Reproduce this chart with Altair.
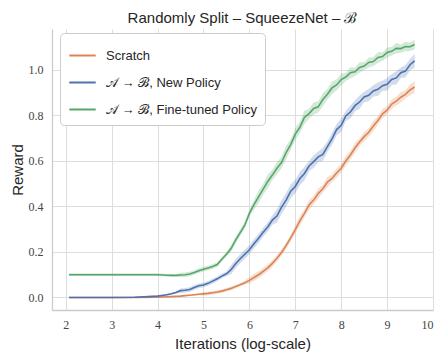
import altair as alt
import pandas as pd

# shared x grid
x_vals = [2.07, 2.5, 3.0, 3.5] + [round(4.0 + 0.1 * i, 1) for i in range(57)]

green_mean = [0.100, 0.100, 0.100, 0.100,
              0.100, 0.099, 0.098, 0.097, 0.097, 0.099, 0.100, 0.103, 0.110, 0.118,
              0.124, 0.130, 0.136, 0.145, 0.168, 0.190, 0.215, 0.252, 0.285, 0.318,
              0.370, 0.408, 0.442, 0.476, 0.510, 0.538, 0.568, 0.593, 0.637, 0.672,
              0.718, 0.748, 0.792, 0.808, 0.831, 0.838, 0.870, 0.893, 0.921, 0.934,
              0.958, 0.969, 0.988, 0.992, 1.011, 1.017, 1.033, 1.037, 1.055, 1.059,
              1.077, 1.082, 1.095, 1.094, 1.103, 1.102, 1.112]
green_hw = [0.006] * 4 + [0.006] * 5 + [0.010] * 11 + [0.015] * 5 + \
    [0.022, 0.028, 0.024, 0.030, 0.023, 0.027, 0.025, 0.031, 0.022, 0.028,
     0.024, 0.030, 0.022, 0.027, 0.025, 0.029, 0.023, 0.028, 0.024, 0.026] + \
    [0.018, 0.024, 0.019, 0.023, 0.017, 0.022, 0.020, 0.024, 0.018, 0.022,
     0.019, 0.023, 0.018, 0.021, 0.019, 0.022]

blue_mean = [0.000, 0.000, 0.000, 0.001,
             0.006, 0.009, 0.012, 0.016, 0.022, 0.030, 0.032, 0.035, 0.044, 0.052,
             0.055, 0.062, 0.072, 0.082, 0.094, 0.104, 0.122, 0.148, 0.170, 0.190,
             0.210, 0.236, 0.260, 0.287, 0.310, 0.340, 0.358, 0.397, 0.428, 0.467,
             0.488, 0.523, 0.545, 0.578, 0.597, 0.618, 0.629, 0.663, 0.697, 0.738,
             0.757, 0.798, 0.815, 0.843, 0.859, 0.881, 0.889, 0.908, 0.915, 0.931,
             0.937, 0.958, 0.965, 0.988, 0.995, 1.023, 1.040]
blue_hw = [0.002] * 4 + [0.004] * 5 + [0.010] * 11 + [0.020] * 10 + [0.030] * 7 + \
    [0.022, 0.028, 0.024, 0.029, 0.023, 0.027, 0.025, 0.030, 0.022, 0.028,
     0.024, 0.029, 0.023, 0.027, 0.025, 0.030, 0.022, 0.028, 0.024, 0.029,
     0.023, 0.027, 0.025, 0.030]

orange_mean = [0.000, 0.000, 0.000, 0.000,
               0.001, 0.002, 0.003, 0.004, 0.005, 0.006, 0.008, 0.010, 0.012, 0.014,
               0.016, 0.018, 0.021, 0.024, 0.028, 0.034, 0.040, 0.048, 0.056, 0.065,
               0.075, 0.088, 0.100, 0.115, 0.130, 0.150, 0.172, 0.198, 0.228, 0.262,
               0.298, 0.337, 0.370, 0.407, 0.428, 0.457, 0.478, 0.507, 0.523, 0.547,
               0.568, 0.600, 0.626, 0.657, 0.683, 0.707, 0.726, 0.754, 0.778, 0.807,
               0.823, 0.850, 0.863, 0.880, 0.893, 0.912, 0.925]
orange_hw = [0.002] * 4 + [0.003] * 10 + [0.008] * 10 + [0.015] * 10 + \
    [0.018, 0.022, 0.017, 0.021, 0.019, 0.023, 0.018, 0.022, 0.017, 0.021,
     0.019, 0.023, 0.018, 0.022, 0.017, 0.021, 0.019, 0.023, 0.018, 0.022,
     0.017, 0.021, 0.019, 0.023, 0.018, 0.024, 0.026]

series_names = ["Scratch", "𝒜 → ℬ, New Policy", "𝒜 → ℬ, Fine-tuned Policy"]
series_colors = ["#dd8452", "#4c72b0", "#55a868"]

rows = []
for name, mean, hw in zip(series_names,
                          [orange_mean, blue_mean, green_mean],
                          [orange_hw, blue_hw, green_hw]):
    for xv, m, h in zip(x_vals, mean, hw):
        rows.append({"x": xv, "series": name, "mean": m, "lo": m - h, "hi": m + h})
df = pd.DataFrame(rows)

xscale = alt.Scale(domain=[1.7, 10.0], nice=False, zero=False)
yscale = alt.Scale(domain=[-0.055, 1.18], nice=False, zero=False)
color = alt.Color("series:N",
                  scale=alt.Scale(domain=series_names, range=series_colors),
                  sort=series_names,
                  legend=alt.Legend(title=None, orient="none", legendX=8, legendY=4,
                                    symbolType="stroke", symbolSize=700,
                                    symbolStrokeWidth=2, labelFontSize=13,
                                    labelFont="Liberation Sans", labelColor="#262626",
                                    labelOffset=9, rowPadding=5,
                                    padding=8, strokeColor="#cccccc",
                                    fillColor="white", cornerRadius=4))

base = alt.Chart(df)
layers = []
for name, col in zip(series_names, series_colors):
    sub = base.transform_filter(alt.datum.series == name)
    band = sub.mark_area(opacity=0.25, color=col).encode(
        x=alt.X("x:Q", scale=xscale),
        y=alt.Y("lo:Q", scale=yscale),
        y2="hi:Q",
    )
    line = sub.mark_line(strokeWidth=1.6).encode(
        x=alt.X("x:Q", scale=xscale,
                axis=alt.Axis(title="Iterations (log-scale)", values=list(range(2, 11)),
                              format="d")),
        y=alt.Y("mean:Q", scale=yscale,
                axis=alt.Axis(title="Reward", values=[0.0, 0.2, 0.4, 0.6, 0.8, 1.0],
                              format=".1f")),
        color=color,
    )
    layers += [band, line]

chart = alt.layer(*layers).properties(
    width=381, height=281,
    title=alt.Title("Randomly Split – SqueezeNet – ℬ", fontSize=15, font="Liberation Sans",
                    fontWeight="normal", color="#262626", offset=3),
    autosize=alt.AutoSizeParams(type="none"),
    padding={"left": 44, "top": 21, "right": 7, "bottom": 42},
).configure_view(stroke=None).configure_axis(
    grid=True, gridColor="#dddddd", gridWidth=1,
    domainColor="#cccccc", domainWidth=1.3,
    ticks=False, labelPadding=9,
    labelFont="Liberation Serif", labelFontSize=12, labelColor="#444444",
    titleFont="Liberation Sans", titleFontSize=15, titleFontWeight="normal",
    titleColor="#262626",
).configure_axisY(titlePadding=3).configure_axisX(titlePadding=6)

chart.save("out.html", embed_options={"renderer": "svg", "actions": False})
